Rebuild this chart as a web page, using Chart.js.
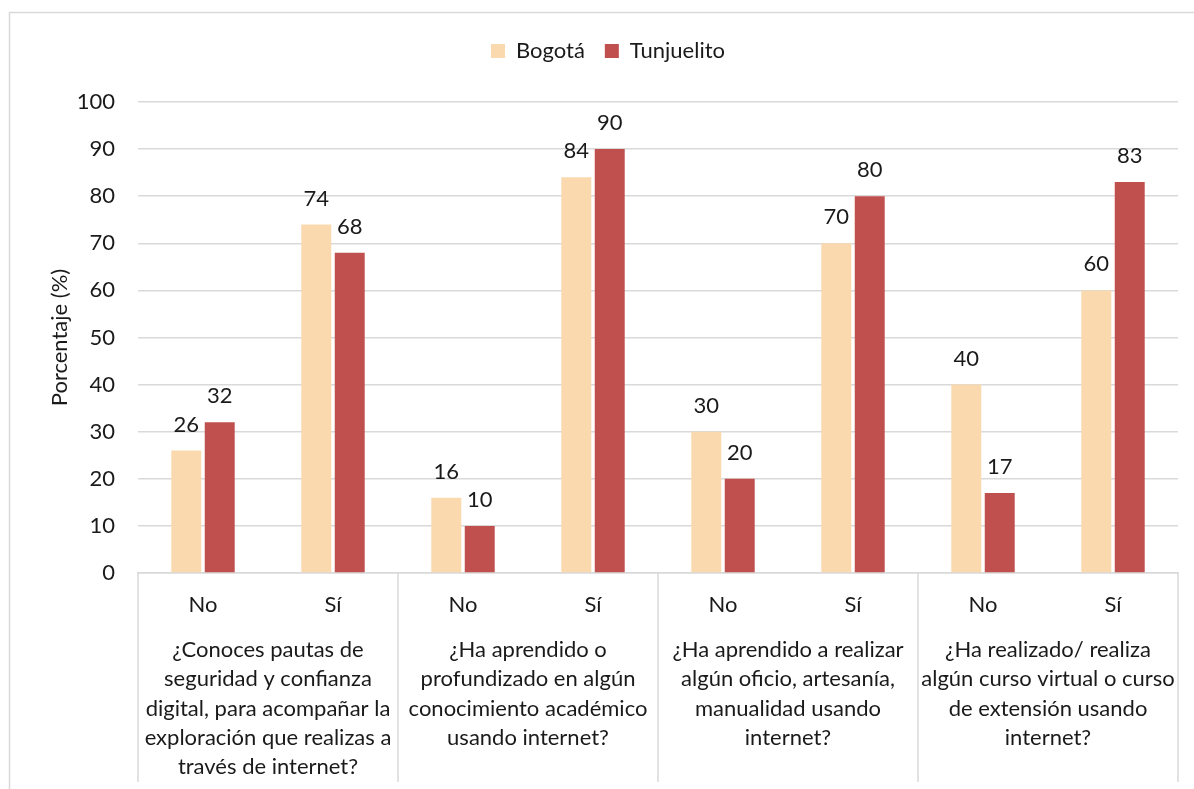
<!DOCTYPE html>
<html lang="es">
<head>
  <meta charset="UTF-8">
  <title>Uso de internet - Bogotá vs Tunjuelito</title>
  <script src="https://cdn.jsdelivr.net/npm/chart.js"></script>
  <style>
    html, body { margin: 0; padding: 0; background: #fff; }
    #wrap { position: relative; width: 1194px; height: 789px; }
  </style>
</head>
<body>
  <div id="wrap"><canvas id="chart"></canvas></div>
  <script>
    // answers per question (x ticks)
    const answers = ['No', 'Sí', 'No', 'Sí', 'No', 'Sí', 'No', 'Sí'];
    // question labels, one per pair of answers, already wrapped
    const questions = [
      ['¿Conoces pautas de', 'seguridad y confianza', 'digital, para acompañar la', 'exploración que realizas a', 'través de internet?'],
      ['¿Ha aprendido o', 'profundizado en algún', 'conocimiento académico', 'usando internet?'],
      ['¿Ha aprendido a realizar', 'algún oficio, artesanía,', 'manualidad usando', 'internet?'],
      ['¿Ha realizado/ realiza', 'algún curso virtual o curso', 'de extensión usando', 'internet?']
    ];
    const bogota = [26, 74, 16, 84, 30, 70, 40, 60];
    const tunjuelito = [32, 68, 10, 90, 20, 80, 17, 83];
    const yTicks = { min: 0, max: 100, step: 10 };

    const FONT = 'Lato, "Open Sans", sans-serif';
    const SIZE = 22;
    const GRID = '#d9d9d9';
    const TEXT = '#1a1a1a';

    // frame, data labels and the second level of the x axis
    const extras = {
      id: 'extras',
      beforeInit(chart) {
        // leave more room between legend and plot
        const fit = chart.legend.fit;
        chart.legend.fit = function () {
          fit.call(this);
          this.height += 30;
        };
      },
      beforeDraw(chart) {
        const c = chart.ctx;
        c.save();
        c.strokeStyle = GRID;
        c.lineWidth = 1.5;
        c.beginPath();
        c.moveTo(9.5, chart.height);
        c.lineTo(9.5, 12.5);
        c.lineTo(chart.width, 12.5);
        c.stroke();
        c.restore();
      },
      afterDraw(chart) {
        const c = chart.ctx;
        const area = chart.chartArea;
        const x = chart.scales.x;
        const bottom = 782;

        c.save();
        // separators between question groups
        c.strokeStyle = GRID;
        c.lineWidth = 1.5;
        const edges = [area.left];
        for (let g = 1; g < questions.length; g++) {
          edges.push((x.getPixelForValue(g * 2 - 1) + x.getPixelForValue(g * 2)) / 2);
        }
        edges.push(area.right);
        edges.forEach(px => {
          c.beginPath();
          c.moveTo(px, area.bottom);
          c.lineTo(px, bottom);
          c.stroke();
        });

        // question labels
        c.fillStyle = TEXT;
        c.font = SIZE + 'px ' + FONT;
        c.textAlign = 'center';
        c.textBaseline = 'middle';
        questions.forEach((lines, g) => {
          const cx = (x.getPixelForValue(g * 2) + x.getPixelForValue(g * 2 + 1)) / 2;
          lines.forEach((line, i) => c.fillText(line, cx, 650 + i * 29.3));
        });

        // value labels above bars
        chart.data.datasets.forEach((ds, di) => {
          chart.getDatasetMeta(di).data.forEach((bar, i) => {
            c.fillText(ds.data[i], bar.x, bar.y - 26);
          });
        });
        c.restore();
      }
    };

    new Chart(document.getElementById('chart'), {
      type: 'bar',
      data: {
        labels: answers,
        datasets: [
          { label: 'Bogotá', data: bogota, backgroundColor: '#fbd9ae' },
          { label: 'Tunjuelito', data: tunjuelito, backgroundColor: '#c0504d' }
        ]
      },
      options: {
        responsive: true,
        maintainAspectRatio: false,
        animation: false,
        categoryPercentage: 0.515,
        barPercentage: 0.895,
        layout: { padding: { top: 20, right: 16, left: 38, bottom: 0 } },
        plugins: {
          legend: {
            position: 'top',
            labels: {
              boxWidth: 14,
              boxHeight: 14,
              padding: 20,
              color: TEXT,
              font: { family: FONT, size: SIZE }
            }
          },
          tooltip: { enabled: false }
        },
        scales: {
          x: {
            afterFit: s => { s.height = 216; },
            grid: { display: false },
            border: { display: true, color: GRID, width: 1.5 },
            ticks: { color: TEXT, padding: 11, font: { family: FONT, size: SIZE } }
          },
          y: {
            min: yTicks.min,
            max: yTicks.max,
            afterFit: s => { s.width = 100; },
            ticks: { stepSize: yTicks.step, color: TEXT, padding: 23, font: { family: FONT, size: SIZE } },
            grid: { color: GRID, lineWidth: 1.5, drawTicks: false },
            border: { display: false },
            title: {
              display: true,
              text: 'Porcentaje (%)',
              color: TEXT,
              padding: { top: 9, bottom: 0 },
              font: { family: FONT, size: SIZE }
            }
          }
        }
      },
      plugins: [extras]
    });
  </script>
</body>
</html>
